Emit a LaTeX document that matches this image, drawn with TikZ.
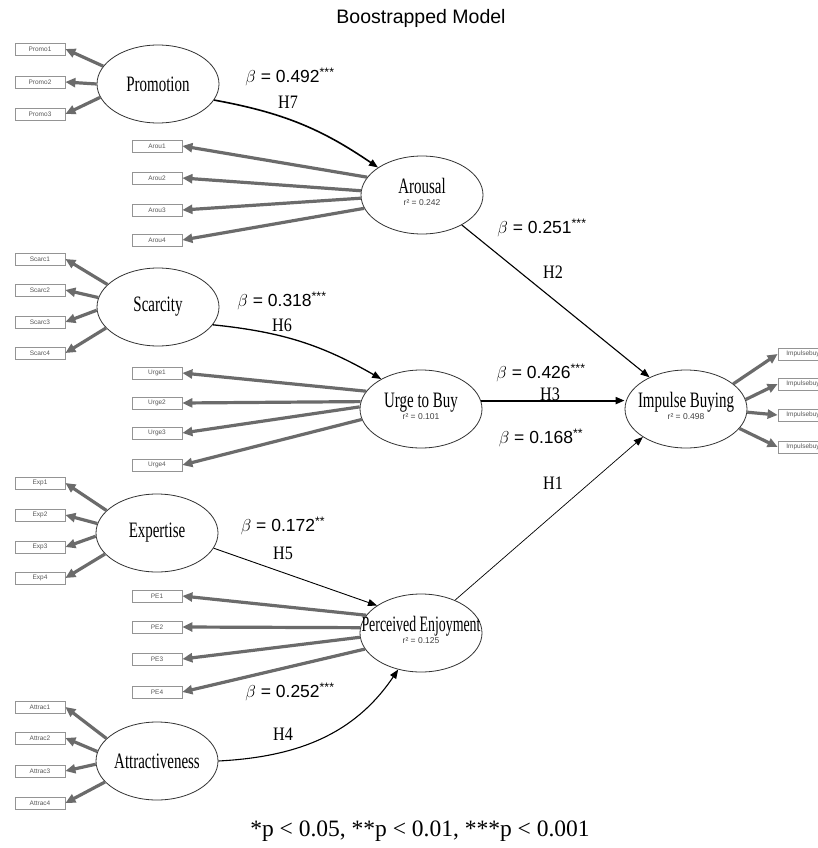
\documentclass[tikz,border=0pt]{standalone}
\usepackage{fontspec}
\setmainfont{Liberation Serif}
\setsansfont{Liberation Sans}
\usepackage{graphicx}
\usetikzlibrary{arrows.meta,shapes.geometric}
\newcommand{\sqz}[2][0.68]{\scalebox{#1}[1]{#2}}
\newcommand{\rsq}{\sffamily\fontsize{8.5}{9}\selectfont\color{black!75}}
\newcommand{\lvone}[2][0.68]{\makebox[0pt]{\sqz[#1]{#2}}}
\newcommand{\lvtwo}[3][0.68]{\makebox[0pt]{\begin{tabular}{@{}c@{}}\sqz[#1]{#2}\\[-10pt]\rsq #3\end{tabular}}}
\newcommand{\cf}[2]{$\beta$ = #1\textsuperscript{#2}}
\begin{document}
\begin{tikzpicture}[x=1pt,y=-1pt,
  latent/.style={draw=black!80, line width=0.8pt, ellipse, minimum width=122pt, minimum height=78pt, inner sep=0pt, font=\fontsize{22}{22}\selectfont},
  ind/.style={draw=black!42, fill=white, line width=0.8pt, minimum width=50pt, minimum height=12pt, inner sep=0pt, font=\sffamily\fontsize{6.5}{7}\selectfont, text=black!65},
  load/.style={draw=black!58, line width=3.2pt, -{Triangle[length=10pt,width=9pt]}},
  pth/.style={draw=black, -{Triangle[length=9pt,width=7pt]}},
  coef/.style={font=\sffamily\fontsize{17.5}{18}\selectfont, inner sep=0pt},
  hyp/.style={font=\fontsize{19}{19}\selectfont, inner sep=0pt},
  ttl/.style={font=\sffamily\fontsize{19.5}{20}\selectfont, inner sep=0pt},
  foot/.style={font=\fontsize{23.5}{24}\selectfont, inner sep=0pt}]
\useasboundingbox (0,0) rectangle (818,848);
\clip (0,0) rectangle (818,848);
\fill[white] (0,0) rectangle (818,848);

\node[ttl] (title) at (421,18) {Boostrapped Model};

% latent variables
\node[latent] (prom) at (158,84) {\lvone{Promotion}};
\node[latent] (arou) at (422,195) {\lvtwo{Arousal}{r² = 0.242}};
\node[latent] (scar) at (158,307) {\lvone{Scarcity}};
\node[latent] (urge) at (421,409) {\lvtwo{Urge to Buy}{r² = 0.101}};
\node[latent] (imp) at (686,409) {\lvtwo{Impulse Buying}{r² = 0.498}};
\node[latent] (expe) at (157,533) {\lvone{Expertise}};
\node[latent] (pe) at (421,633) {\lvtwo[0.63]{Perceived Enjoyment}{r² = 0.125}};
\node[latent] (attr) at (157,761) {\lvone{Attractiveness}};

% indicators
\node[ind] (pr1) at (40,49) {Promo1};
\node[ind] (pr2) at (40,82) {Promo2};
\node[ind] (pr3) at (40,114) {Promo3};
\node[ind] (ar1) at (157,146) {Arou1};
\node[ind] (ar2) at (157,178) {Arou2};
\node[ind] (ar3) at (157,210) {Arou3};
\node[ind] (ar4) at (157,240) {Arou4};
\node[ind] (sc1) at (40,259) {Scarc1};
\node[ind] (sc2) at (40,290) {Scarc2};
\node[ind] (sc3) at (40,322) {Scarc3};
\node[ind] (sc4) at (40,353) {Scarc4};
\node[ind] (ur1) at (157,373) {Urge1};
\node[ind] (ur2) at (157,403) {Urge2};
\node[ind] (ur3) at (157,433) {Urge3};
\node[ind] (ur4) at (157,465) {Urge4};
\node[ind] (ex1) at (40,483) {Exp1};
\node[ind] (ex2) at (40,515) {Exp2};
\node[ind] (ex3) at (40,547) {Exp3};
\node[ind] (ex4) at (40,578) {Exp4};
\node[ind] (pe1) at (157,596) {PE1};
\node[ind] (pe2) at (157,627) {PE2};
\node[ind] (pe3) at (157,659) {PE3};
\node[ind] (pe4) at (157,692) {PE4};
\node[ind] (at1) at (40,707) {Attrac1};
\node[ind] (at2) at (40,738) {Attrac2};
\node[ind] (at3) at (40,771) {Attrac3};
\node[ind] (at4) at (40,803) {Attrac4};
\node[ind] (ib1) at (803,354) {Impulsebuy};
\node[ind] (ib2) at (803,384) {Impulsebuy};
\node[ind] (ib3) at (803,415) {Impulsebuy};
\node[ind] (ib4) at (803,447) {Impulsebuy};

% loadings
\draw[load] (prom.162) -- (pr1.east);
\draw[load] (prom.180) -- (pr2.east);
\draw[load] (prom.193) -- (pr3.east);
\draw[load] (arou.162) -- (ar1.east);
\draw[load] (arou.176) -- (ar2.east);
\draw[load] (arou.183) -- (ar3.east);
\draw[load] (arou.193) -- (ar4.east);
\draw[load] (scar.156) -- (sc1.east);
\draw[load] (scar.171) -- (sc2.east);
\draw[load] (scar.183) -- (sc3.east);
\draw[load] (scar.202) -- (sc4.east);
\draw[load] (urge.162) -- (ur1.east);
\draw[load] (urge.173) -- (ur2.east);
\draw[load] (urge.178) -- (ur3.east);
\draw[load] (urge.190) -- (ur4.east);
\draw[load] (expe.156) -- (ex1.east);
\draw[load] (expe.171) -- (ex2.east);
\draw[load] (expe.183) -- (ex3.east);
\draw[load] (expe.202) -- (ex4.east);
\draw[load] (pe.162) -- (pe1.east);
\draw[load] (pe.175) -- (pe2.east);
\draw[load] (pe.184) -- (pe3.east);
\draw[load] (pe.196) -- (pe4.east);
\draw[load] (attr.156) -- (at1.east);
\draw[load] (attr.171) -- (at2.east);
\draw[load] (attr.183) -- (at3.east);
\draw[load] (attr.202) -- (at4.east);
\draw[load] (imp.28) -- (ib1.west);
\draw[load] (imp.9) -- (ib2.west);
\draw[load] (imp.-3) -- (ib3.west);
\draw[load] (imp.-20) -- (ib4.west);

% structural paths
\draw[pth, line width=1.6pt] (prom.-16) to[bend left=12] (arou.148);
\draw[pth, line width=1.1pt] (arou.-37) -- (imp.139);
\draw[pth, line width=1.3pt] (scar.-18) to[bend left=12] (urge.143);
\draw[pth, line width=2pt] (urge.8) -- (urge.8 -| imp.west);
\draw[pth, line width=0.9pt] (expe.-15) -- (pe.148);
\draw[pth, line width=0.7pt] (pe.44) -- (imp.213);
\draw[pth, line width=1.1pt] (attr.east) to[out=3,in=236] (pe.238);

% labels
\node[coef] (c7) at (290,77) {\cf{0.492}{***}};
\node[hyp] (h7) at (288,102) {\sqz[0.85]{H7}};
\node[coef] (c2) at (542,228) {\cf{0.251}{***}};
\node[hyp] (h2) at (553,272) {\sqz[0.85]{H2}};
\node[coef] (c6) at (282,301) {\cf{0.318}{***}};
\node[hyp] (h6) at (282,325) {\sqz[0.85]{H6}};
\node[coef] (c3) at (541,373) {\cf{0.426}{***}};
\node[hyp] (h3) at (550,394) {\sqz[0.85]{H3}};
\node[coef] (c1) at (541,438) {\cf{0.168}{**}};
\node[hyp] (h1) at (553,483) {\sqz[0.85]{H1}};
\node[coef] (c5) at (283,526) {\cf{0.172}{**}};
\node[hyp] (h5) at (283,553) {\sqz[0.85]{H5}};
\node[coef] (c4) at (290,692) {\cf{0.252}{***}};
\node[hyp] (h4) at (283,734) {\sqz[0.85]{H4}};

\node[foot] (note) at (420,831) {*p < 0.05, **p < 0.01, ***p < 0.001};
\end{tikzpicture}
\end{document}
